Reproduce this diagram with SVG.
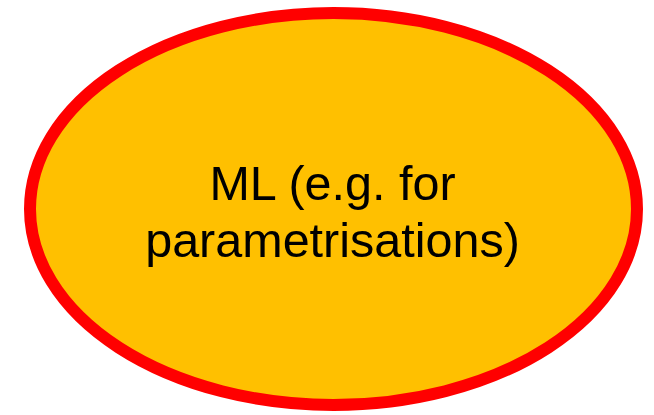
<svg xmlns="http://www.w3.org/2000/svg" width="654" height="415" viewBox="0 0 654 415">
<style>
.node{fill:#FFC000;stroke:#FF0000;stroke-width:12}
.lbl{font-family:"Liberation Sans",Arial,sans-serif;font-size:48.5px;fill:#000;text-anchor:middle}
</style>
<rect width="654" height="415" fill="#fff"/>
<g id="node-ml">
<ellipse class="node" cx="333.5" cy="209" rx="303.5" ry="196"/>
<text class="lbl" x="332.5" y="200">ML (e.g. for</text>
<text class="lbl" x="332.5" y="257">parametrisations)</text>
</g>
<g id="connectors"/>
</svg>
